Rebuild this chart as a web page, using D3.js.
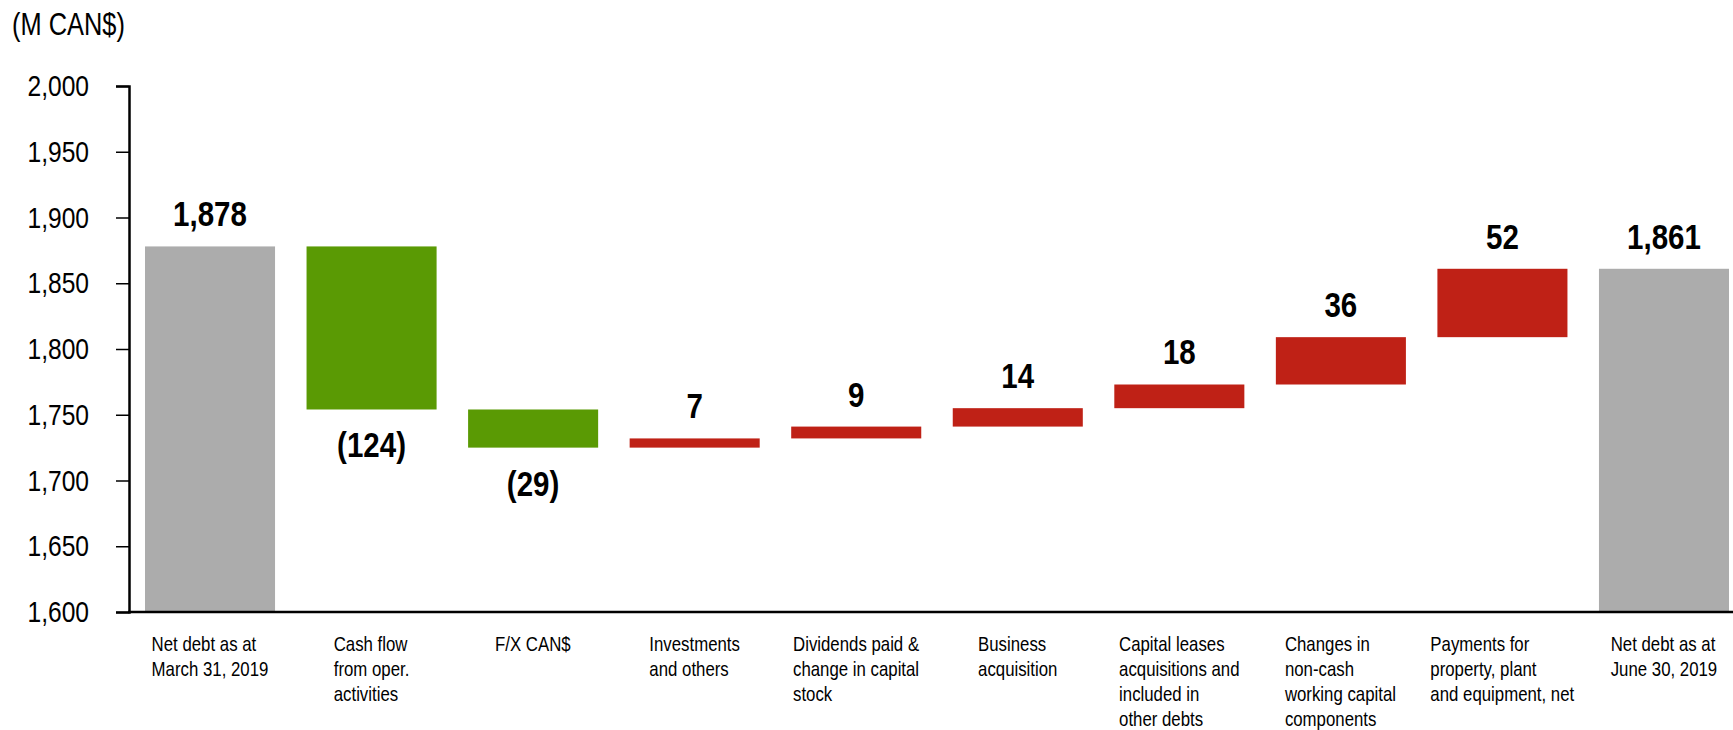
<!DOCTYPE html>
<html>
<head>
<meta charset="utf-8">
<script src="https://cdn.jsdelivr.net/npm/d3@7"></script>
<style>
  body { margin: 0; background: #fff; }
  text { font-family: "Liberation Sans", Arial, sans-serif; fill: #000; }
</style>
</head>
<body>
<div id="chart"></div>
<script>
// chart data
var categories = [
  ["Net debt as at", "March 31, 2019"],
  ["Cash flow", "from oper.", "activities"],
  ["F/X CAN$"],
  ["Investments", "and others"],
  ["Dividends paid &", "change in capital", "stock"],
  ["Business", "acquisition"],
  ["Capital leases", "acquisitions and", "included in", "other debts"],
  ["Changes in", "non-cash", "working capital", "components"],
  ["Payments for", "property, plant", "and equipment, net"],
  ["Net debt as at", "June 30, 2019"]
];
var values = [1878, -124, -29, 7, 9, 14, 18, 36, 52, 1861];
var isTotal = [true, false, false, false, false, false, false, false, false, true];
var yTicks = [1600, 1650, 1700, 1750, 1800, 1850, 1900, 1950, 2000];
var unitLabel = "(M CAN$)";

var width = 1733, height = 730;
// no narrow font installed: squeeze text horizontally
var sx = 0.82;

var svg = d3.select("#chart").append("svg")
    .attr("width", width)
    .attr("height", height);

// waterfall start/end for each bar
var running = 0;
var bars = values.map(function(v, i) {
  var b;
  if (isTotal[i]) {
    b = { i: i, y0: 1600, y1: v, v: v, total: true };
    running = v;
  } else {
    b = { i: i, y0: running, y1: running + v, v: v, total: false };
    running = running + v;
  }
  return b;
});

var x = d3.scaleBand()
    .domain(d3.range(categories.length))
    .range([129, 1745])
    .paddingInner(0.195)
    .paddingOuter(0.099);

var y = d3.scaleLinear()
    .domain([1600, 2000])
    .range([612, 86]);

// y axis
var yAxis = svg.append("g")
    .attr("transform", "translate(129,0)")
    .call(d3.axisLeft(y).tickValues(yTicks).tickSize(13).tickPadding(27)
      .tickFormat(d3.format(",")));
yAxis.select(".domain").attr("stroke", "#000").attr("stroke-width", 2.5);
yAxis.selectAll(".tick line").attr("stroke", "#000").attr("stroke-width", 1.5);
yAxis.selectAll(".tick text")
    .attr("x", -40 / sx)
    .attr("transform", "scale(" + sx + ",1)")
    .style("font-size", "30px")
    .style("font-family", "'Liberation Sans', Arial, sans-serif");

svg.append("text")
    .attr("x", 12 / sx)
    .attr("y", 35)
    .attr("transform", "scale(" + sx + ",1)")
    .style("font-size", "31px")
    .text(unitLabel);

// bars
var fmt = d3.format(",");
function colorOf(d) {
  if (d.total) return "#ACACAC";
  return d.v < 0 ? "#5A9A04" : "#BF2116";
}

svg.selectAll("rect.bar")
    .data(bars)
  .enter().append("rect")
    .attr("class", "bar")
    .attr("x", d => x(d.i))
    .attr("width", x.bandwidth())
    .attr("y", d => y(Math.max(d.y0, d.y1)))
    .attr("height", d => Math.abs(y(d.y0) - y(d.y1)))
    .attr("fill", colorOf);

// x axis line
svg.append("line")
    .attr("x1", 128).attr("x2", width)
    .attr("y1", 612).attr("y2", 612)
    .attr("stroke", "#000").attr("stroke-width", 2.5);

// value labels
svg.selectAll("text.val")
    .data(bars)
  .enter().append("text")
    .attr("class", "val")
    .attr("x", d => (x(d.i) + x.bandwidth() / 2) / sx)
    .attr("y", d => d.v < 0 ? y(Math.min(d.y0, d.y1)) + 48 : y(Math.max(d.y0, d.y1)) - 20)
    .attr("transform", "scale(" + sx + ",1)")
    .attr("text-anchor", "middle")
    .style("font-size", "36px")
    .style("font-weight", "bold")
    .text(d => d.v < 0 ? "(" + fmt(-d.v) + ")" : fmt(d.v));

// category labels: lines left-aligned, block centred under the bar
var catG = svg.selectAll("g.cat")
    .data(categories)
  .enter().append("g")
    .attr("class", "cat");

catG.each(function(lines, i) {
  var g = d3.select(this);
  var t = g.append("text").style("font-size", "20.5px");
  lines.forEach(function(l, k) {
    t.append("tspan").attr("x", 0).attr("y", 651 + k * 25).text(l);
  });
  var w = t.node().getBBox().width * sx;
  g.attr("transform", "translate(" + (x(i) + x.bandwidth() / 2 - w / 2) + ",0) scale(" + sx + ",1)");
});
</script>
</body>
</html>
